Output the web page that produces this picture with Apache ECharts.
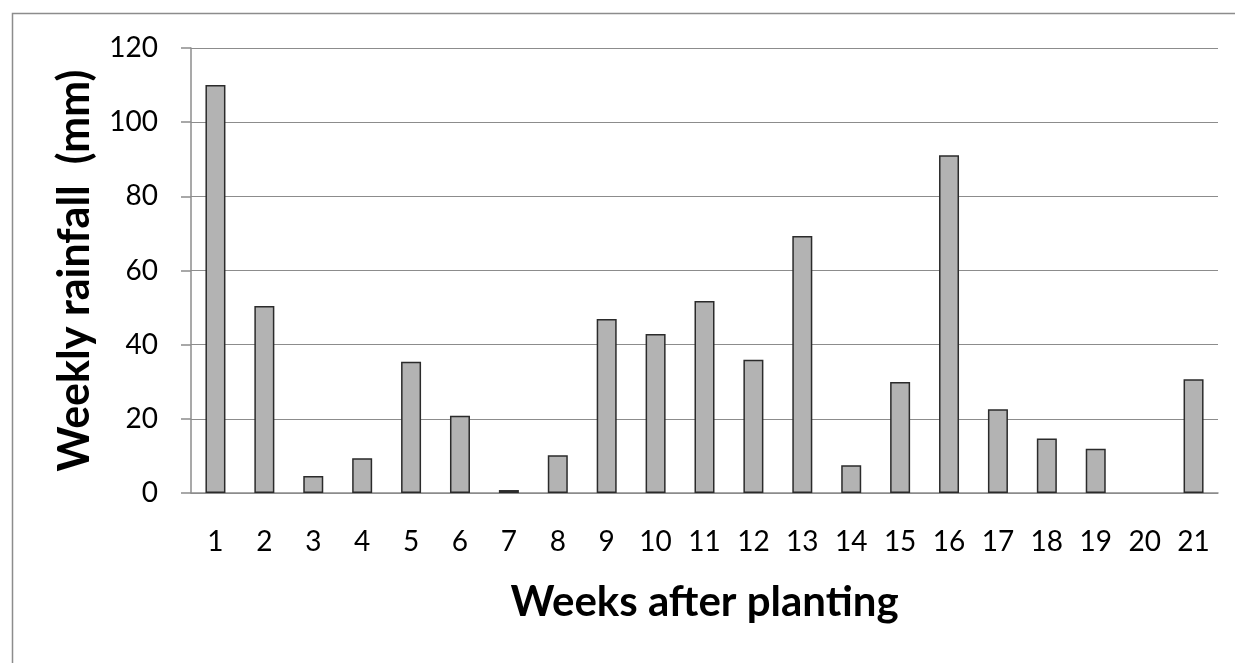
<!DOCTYPE html>
<html><head><meta charset="utf-8">
<script src="https://cdn.jsdelivr.net/npm/echarts@6/dist/echarts.min.js"></script>
<style>html,body{margin:0;padding:0;background:#fff}#c{width:1235px;height:663px}</style>
</head><body><div id="c"></div>
<script>
const weeks = ['1','2','3','4','5','6','7','8','9','10','11','12','13','14','15','16','17','18','19','20','21'];
const rainfall = [110, 50.4, 4.6, 9.4, 35.4, 20.8, 0.8, 10.2, 46.9, 42.9, 51.8, 35.9, 69.3, 7.5, 29.9, 91.1, 22.6, 14.7, 11.9, 0, 30.7];
const yTicks = [0, 20, 40, 60, 80, 100, 120];

const chart = echarts.init(document.getElementById('c'), null, {renderer: 'canvas'});
const FONT = 'Lato';
chart.setOption({
  animation: false,
  backgroundColor: '#fff',
  graphic: [{
    type: 'rect', left: 10, top: 11, shape: {width: 1240, height: 670},
    style: {fill: 'none', stroke: '#8c8c8c', lineWidth: 1.5}, silent: true, z: -1
  }],
  grid: {left: 191, right: 17, top: 48, bottom: 170, containLabel: false},
  xAxis: {
    type: 'category', data: weeks,
    axisLine: {lineStyle: {color: '#8c8c8c', width: 1.5}},
    axisTick: {show: false},
    axisLabel: {color: '#000', fontFamily: FONT, fontSize: 28, margin: 35},
    name: 'Weeks after planting', nameLocation: 'middle', nameGap: 88,
    nameTextStyle: {color: '#000', fontFamily: FONT, fontSize: 42, fontWeight: 'bold'}
  },
  yAxis: {
    type: 'value', min: yTicks[0], max: yTicks[yTicks.length - 1], interval: 20,
    axisLine: {show: true, lineStyle: {color: '#8c8c8c', width: 1.5}},
    axisTick: {show: true, length: 10, lineStyle: {color: '#8c8c8c', width: 1.5}},
    splitLine: {lineStyle: {color: '#8c8c8c', width: 1.2}},
    axisLabel: {color: '#000', fontFamily: FONT, fontSize: 28, margin: 33},
    name: 'Weekly rainfall  (mm)', nameLocation: 'middle', nameGap: 94, nameRotate: 90,
    nameTextStyle: {color: '#000', fontFamily: FONT, fontSize: 43, fontWeight: 'bold'}
  },
  series: [{
    type: 'bar', barWidth: 20,
    data: rainfall.map(v => ({value: v, itemStyle: {borderWidth: v === 0 ? 0 : 1.5}})),
    itemStyle: {color: '#b3b3b3', borderColor: '#2b2b2b', borderWidth: 1.5}
  }]
});
</script></body></html>
